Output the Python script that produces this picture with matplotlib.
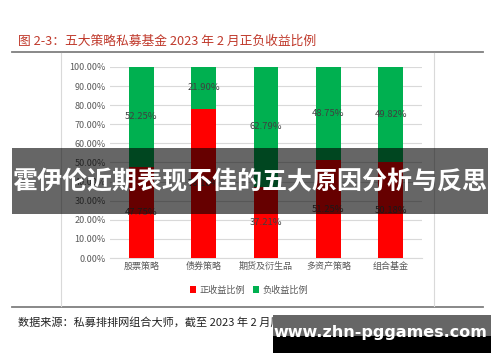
import matplotlib
matplotlib.use("Agg")
import matplotlib.pyplot as plt
from matplotlib.patches import Rectangle
from matplotlib.lines import Line2D
import numpy as np

plt.rcParams['font.family'] = ['Noto Sans CJK SC', 'DejaVu Sans']

categories = ["股票策略", "债券策略", "期货及衍生品", "多资产策略", "组合基金"]
positive = [47.75, 78.10, 37.21, 51.25, 50.18]
negative = [52.25, 21.90, 62.79, 48.75, 49.82]
series_names = ["正收益比例", "负收益比例"]
yticks = [0, 10, 20, 30, 40, 50, 60, 70, 80, 90, 100]

W, H = 500, 362
fig = plt.figure(figsize=(W / 100, H / 100), dpi=100)

def fx(px):
    return px / W

def fy(py):
    return 1 - py / H

# chart frame
fig.add_artist(Line2D([fx(12), fx(483)], [fy(52), fy(52)], color="#7f7f7f", lw=1.3))
fig.add_artist(Line2D([fx(12), fx(483)], [fy(307), fy(307)], color="#7f7f7f", lw=1.3))
fig.add_artist(Line2D([fx(61), fx(61)], [fy(53), fy(306)], color="#d9d9d9", lw=0.8))
fig.add_artist(Line2D([fx(434), fx(434)], [fy(53), fy(306)], color="#d9d9d9", lw=0.8))

fig.text(fx(18), fy(41), "图 2-3：五大策略私募基金 2023 年 2 月正负收益比例",
         color="#C0392B", fontsize=9.2, va="center", ha="left")
fig.text(fx(18), fy(322), "数据来源：私募排排网组合大师，截至 2023 年 2 月底",
         color="#222222", fontsize=8, va="center", ha="left")

ax = fig.add_axes([fx(110), fy(258), (422 - 110) / W, (258 - 67) / H])
x = np.arange(len(categories))
bw = 0.4
ax.bar(x, positive, bw, color="#FF0000", label=series_names[0], zorder=3)
ax.bar(x, negative, bw, bottom=positive, color="#00B050", label=series_names[1], zorder=3)
for i in range(len(categories)):
    ax.text(x[i], positive[i] / 2, f"{positive[i]:.2f}%", ha="center", va="center",
            fontsize=6.8, color="#404040", zorder=4)
    ax.text(x[i], positive[i] + negative[i] / 2, f"{negative[i]:.2f}%", ha="center",
            va="center", fontsize=6.8, color="#404040", zorder=4)
ax.set_xlim(-0.5, len(categories) - 0.5)
ax.set_ylim(0, 100)
ax.set_yticks(yticks)
ax.set_yticklabels([f"{v:.2f}%" for v in yticks], fontsize=6.5, color="#595959")
ax.set_xticks(x)
ax.set_xticklabels(categories, fontsize=6.5, color="#595959")
ax.grid(axis="y", color="#d9d9d9", lw=0.8, zorder=0)
for s in ["top", "right", "left"]:
    ax.spines[s].set_visible(False)
ax.spines["bottom"].set_color("#d9d9d9")
ax.tick_params(length=0, pad=3)
ax.legend(loc="center", bbox_to_anchor=(fx(249), fy(290)), bbox_transform=fig.transFigure,
          ncol=2, frameon=False, fontsize=6.6, handlelength=0.7, handleheight=0.7,
          columnspacing=0.8, handletextpad=0.4, labelcolor="#595959")

# overlay banner
fig.add_artist(Rectangle((fx(12), fy(214)), fx(488) - fx(12), fy(148) - fy(214),
                         transform=fig.transFigure, facecolor="black", alpha=0.6, zorder=10))
fig.text(fx(250), fy(182), "霍伊伦近期表现不佳的五大原因分析与反思", color="white",
         fontsize=18, fontweight="bold", ha="center", va="center", zorder=11)

# watermark box
fig.add_artist(Rectangle((fx(273), fy(336)), fx(491) - fx(273), fy(315) - fy(336),
                         transform=fig.transFigure, facecolor="#666666", zorder=10))
fig.add_artist(Rectangle((fx(273), fy(353)), fx(491) - fx(273), fy(336) - fy(353),
                         transform=fig.transFigure, facecolor="black", zorder=10))
fig.text(fx(380), fy(333), "www.zhn-pggames.com", color="white", fontsize=11.5,
         fontweight="bold", ha="center", va="center", zorder=11, family="DejaVu Sans")

fig.savefig("out.png", dpi=100)
